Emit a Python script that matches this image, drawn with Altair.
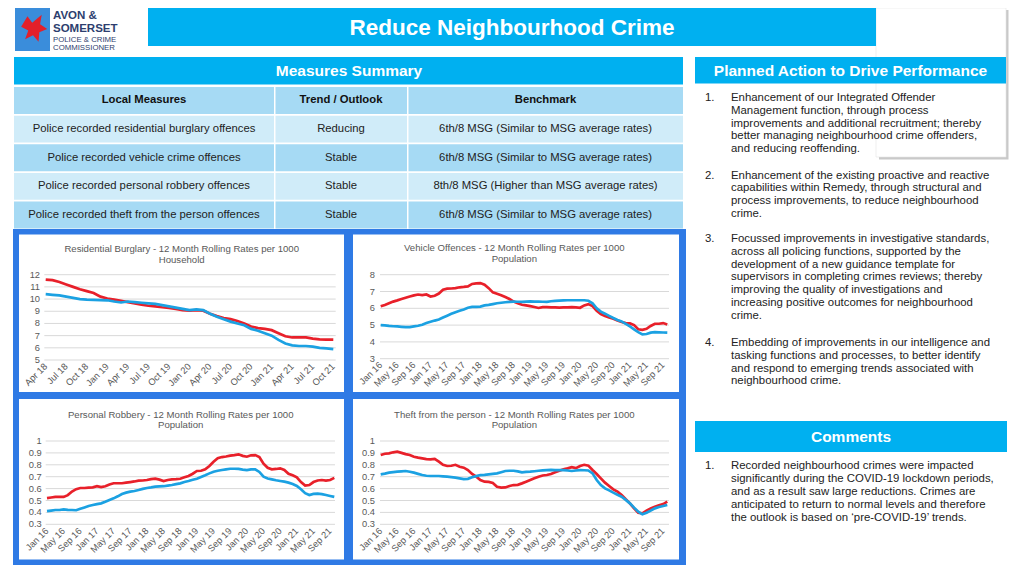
import altair as alt
import pandas as pd

# ---------------- data ----------------
burglary_xlabels = ["Apr 18", "Jul 18", "Oct 18", "Jan 19", "Apr 19", "Jul 19", "Oct 19", "Jan 20",
                    "Apr 20", "Jul 20", "Oct 20", "Jan 21", "Apr 21", "Jul 21", "Oct 21"]
burglary_force = [11.6, 11.55, 11.4, 11.2, 11.0, 10.8, 10.65, 10.5, 10.2, 10.05,
                  9.95, 9.85, 9.75, 9.65, 9.55, 9.45, 9.4, 9.33, 9.28, 9.2,
                  9.1, 9.05, 9.1, 9.05, 8.8, 8.6, 8.45, 8.35, 8.2, 8.0,
                  7.75, 7.62, 7.55, 7.45, 7.2, 6.95, 6.85, 6.85, 6.85, 6.75,
                  6.7, 6.68, 6.67]
burglary_msg = [10.4, 10.35, 10.3, 10.2, 10.1, 10.0, 9.95, 9.93, 9.92, 9.9,
                9.8, 9.72, 9.8, 9.75, 9.7, 9.65, 9.6, 9.5, 9.4, 9.3,
                9.2, 9.1, 9.15, 9.1, 8.8, 8.55, 8.35, 8.15, 8.0, 7.85,
                7.55, 7.4, 7.2, 7.0, 6.65, 6.35, 6.2, 6.15, 6.15, 6.1,
                6.0, 5.95, 5.9]
burglary_yticks = [5, 6, 7, 8, 9, 10, 11, 12]

monthly_xlabels = ["Jan 16", "May 16", "Sep 16", "Jan 17", "May 17", "Sep 17", "Jan 18", "May 18",
                   "Sep 18", "Jan 19", "May 19", "Sep 19", "Jan 20", "May 20", "Sep 20", "Jan 21",
                   "May 21", "Sep 21"]

vehicle_force = [6.12, 6.2, 6.3, 6.4, 6.47, 6.55, 6.63, 6.7, 6.77, 6.82,
                 6.78, 6.82, 6.7, 6.75, 6.88, 7.1, 7.17, 7.18, 7.2, 7.25,
                 7.27, 7.3, 7.45, 7.48, 7.5, 7.4, 7.2, 6.95, 6.87, 6.78,
                 6.67, 6.55, 6.4, 6.3, 6.21, 6.17, 6.13, 6.08, 6.02, 6.07,
                 6.07, 6.06, 6.05, 6.04, 6.05, 6.06, 6.07, 6.05, 6.03, 6.17,
                 6.25, 6.13, 5.85, 5.66, 5.54, 5.46, 5.38, 5.28, 5.18, 5.12,
                 5.1, 5.0, 4.75, 4.72, 4.78, 4.95, 5.08, 5.08, 5.12, 5.04]
vehicle_msg = [5.0, 4.98, 4.95, 4.93, 4.92, 4.9, 4.88, 4.88, 4.92, 4.96,
               5.02, 5.12, 5.2, 5.27, 5.33, 5.45, 5.56, 5.67, 5.77, 5.85,
               5.93, 6.03, 6.08, 6.08, 6.1, 6.17, 6.2, 6.25, 6.3, 6.33,
               6.36, 6.38, 6.4, 6.39, 6.38, 6.4, 6.41, 6.4, 6.4, 6.39,
               6.38, 6.42, 6.44, 6.46, 6.47, 6.48, 6.48, 6.48, 6.48, 6.48,
               6.45, 6.3, 6.0, 5.8, 5.68, 5.55, 5.42, 5.3, 5.22, 5.07,
               4.92, 4.75, 4.58, 4.45, 4.47, 4.55, 4.58, 4.57, 4.56, 4.55]
vehicle_yticks = [3, 4, 5, 6, 7, 8]

robbery_force = [0.52, 0.525, 0.53, 0.53, 0.53, 0.545, 0.575, 0.595, 0.605, 0.605,
                 0.608, 0.61, 0.62, 0.612, 0.62, 0.635, 0.645, 0.645, 0.645, 0.65,
                 0.655, 0.66, 0.667, 0.668, 0.672, 0.68, 0.683, 0.675, 0.664, 0.672,
                 0.678, 0.68, 0.683, 0.695, 0.706, 0.725, 0.748, 0.75, 0.762, 0.79,
                 0.826, 0.855, 0.865, 0.87, 0.877, 0.882, 0.888, 0.875, 0.868, 0.88,
                 0.882, 0.865, 0.81, 0.775, 0.762, 0.765, 0.77, 0.756, 0.725, 0.712,
                 0.695, 0.655, 0.625, 0.63, 0.655, 0.668, 0.672, 0.667, 0.672, 0.69]
robbery_msg = [0.41, 0.415, 0.42, 0.42, 0.425, 0.422, 0.42, 0.418, 0.43, 0.442,
               0.454, 0.462, 0.47, 0.476, 0.49, 0.505, 0.518, 0.535, 0.555, 0.566,
               0.574, 0.58, 0.588, 0.598, 0.605, 0.61, 0.616, 0.618, 0.62, 0.625,
               0.63, 0.637, 0.644, 0.655, 0.664, 0.674, 0.683, 0.698, 0.712, 0.728,
               0.742, 0.75, 0.756, 0.762, 0.767, 0.767, 0.765, 0.76, 0.756, 0.762,
               0.762, 0.74, 0.7, 0.685, 0.678, 0.67, 0.664, 0.658, 0.65, 0.638,
               0.622, 0.594, 0.562, 0.546, 0.555, 0.557, 0.553, 0.546, 0.538, 0.53]

theft_force = [0.882, 0.893, 0.896, 0.905, 0.91, 0.9, 0.89, 0.882, 0.868, 0.86,
               0.854, 0.848, 0.846, 0.85, 0.826, 0.8, 0.79, 0.792, 0.8, 0.784,
               0.776, 0.756, 0.723, 0.7, 0.672, 0.658, 0.656, 0.648, 0.616, 0.608,
               0.61, 0.622, 0.63, 0.632, 0.644, 0.658, 0.672, 0.686, 0.7, 0.71,
               0.714, 0.722, 0.737, 0.75, 0.762, 0.77, 0.78, 0.772, 0.79, 0.8,
               0.793, 0.756, 0.723, 0.686, 0.65, 0.622, 0.594, 0.574, 0.546, 0.51,
               0.476, 0.434, 0.397, 0.392, 0.414, 0.434, 0.448, 0.46, 0.47, 0.49]
theft_msg = [0.72, 0.726, 0.734, 0.738, 0.742, 0.745, 0.748, 0.742, 0.734, 0.724,
             0.714, 0.708, 0.706, 0.706, 0.706, 0.703, 0.7, 0.696, 0.692, 0.686,
             0.68, 0.682, 0.695, 0.705, 0.714, 0.716, 0.72, 0.724, 0.728, 0.738,
             0.748, 0.75, 0.75, 0.745, 0.737, 0.74, 0.742, 0.746, 0.75, 0.753,
             0.756, 0.757, 0.756, 0.756, 0.756, 0.752, 0.748, 0.752, 0.756, 0.754,
             0.752, 0.728, 0.672, 0.63, 0.602, 0.585, 0.566, 0.548, 0.532, 0.505,
             0.476, 0.44, 0.406, 0.384, 0.397, 0.415, 0.434, 0.445, 0.454, 0.462]
rate_yticks = [0.3, 0.4, 0.5, 0.6, 0.7, 0.8, 0.9, 1.0]
rate_ylabels = ["0.3", "0.4", "0.5", "0.6", "0.7", "0.8", "0.9", "1"]

table_measures = ["Local Measures",
                  "Police recorded residential burglary offences",
                  "Police recorded vehicle crime offences",
                  "Police recorded personal robbery offences",
                  "Police recorded theft from the person offences"]
table_trend = ["Trend / Outlook", "Reducing", "Stable", "Stable", "Stable"]
table_bench = ["Benchmark",
               "6th/8 MSG (Similar to MSG average rates)",
               "6th/8 MSG (Similar to MSG average rates)",
               "8th/8 MSG (Higher than MSG average rates)",
               "6th/8 MSG (Similar to MSG average rates)"]

actions = [
    ["Enhancement of our Integrated Offender", "Management function, through process",
     "improvements and additional recruitment; thereby", "better managing neighbourhood crime offenders,",
     "and reducing reoffending."],
    ["Enhancement of the existing proactive and reactive", "capabilities within Remedy, through structural and",
     "process improvements, to reduce neighbourhood", "crime."],
    ["Focussed improvements in investigative standards,", "across all policing functions, supported by the",
     "development of a new guidance template for", "supervisors in completing crimes reviews; thereby",
     "improving the quality of investigations and", "increasing positive outcomes for neighbourhood", "crime."],
    ["Embedding of improvements in our intelligence and", "tasking functions and processes, to better identify",
     "and respond to emerging trends associated with", "neighbourhood crime."],
]
comments = [["Recorded neighbourhood crimes were impacted", "significantly during the COVID-19 lockdown periods,",
             "and as a result saw large reductions. Crimes are", "anticipated to return to normal levels and therefore",
             "the outlook is based on \u2018pre-COVID-19\u2019 trends."]]

# ---------------- style ----------------
OFF = 8
HEAD = "#00B0F0"
FRAME = "#2F7AE5"
RED = "#E8202A"
BLUE = "#1BA1E2"
GRID = "#D9D9D9"
AXTXT = "#595959"
INK = "#222222"
FONT = "Liberation Sans"


def px(v):
    return v - OFF


one = pd.DataFrame({"k": [0]})


def rect(x0, y0, x1, y1, color, **kw):
    return alt.Chart(one).mark_rect(color=color, **kw).encode(
        x=alt.value(px(x0)), x2=alt.value(px(x1)), y=alt.value(px(y0)), y2=alt.value(px(y1)))


def text(x, y, t, size, color=INK, weight="normal", align="left", baseline="middle", lh=None, font=FONT):
    kw = dict(fontSize=size, color=color, fontWeight=weight, align=align, baseline=baseline, font=font)
    if lh:
        kw["lineHeight"] = lh
    return alt.Chart(one).mark_text(**kw).encode(x=alt.value(px(x)), y=alt.value(px(y)), text=alt.value(t))


def panel(force, msg, xlabels, step, yvals, ylabs, ydom, x0, x1, ybot, ytop, gx0, gx1, ylx, xly,
          title, tx, ty, tlh):
    n = len(force)
    xs = alt.Scale(domain=[0, n - 1], range=[px(x0), px(x1)], nice=False, zero=False)
    ys = alt.Scale(domain=ydom, range=[px(ybot), px(ytop)], nice=False, zero=False)
    X = alt.X("i:Q", scale=xs, axis=None)
    Y = alt.Y("v:Q", scale=ys, axis=None)
    ticks = pd.DataFrame({"v": yvals, "lab": ylabs})
    xl = pd.DataFrame({"i": [k * step for k in range(len(xlabels))], "lab": xlabels})
    grid = alt.Chart(ticks).mark_rule(color=GRID, strokeWidth=1).encode(
        y=Y, x=alt.value(px(gx0)), x2=alt.value(px(gx1)))
    ylab = alt.Chart(ticks).mark_text(align="right", baseline="middle", fontSize=9.3, color=AXTXT,
                                      font=FONT).encode(y=Y, x=alt.value(px(ylx)), text="lab:N")
    xlab = alt.Chart(xl).mark_text(align="right", baseline="middle", angle=315, fontSize=9.3,
                                   color=AXTXT, font=FONT).encode(x=X, y=alt.value(px(xly)), text="lab:N")
    lf = alt.Chart(pd.DataFrame({"i": list(range(n)), "v": force})).mark_line(
        color=RED, strokeWidth=2.7).encode(x=X, y=Y)
    lm = alt.Chart(pd.DataFrame({"i": list(range(n)), "v": msg})).mark_line(
        color=BLUE, strokeWidth=2.7).encode(x=X, y=Y)
    ttl = text(tx, ty, title, 9.6, color=AXTXT, align="center", baseline="alphabetic", lh=tlh)
    return alt.layer(grid, ylab, xlab, lf, lm, ttl)


layers = []

# logo
layers.append(rect(15, 8, 50, 51, "#3A8DDB"))
layers.append(alt.Chart(one).mark_point(
    shape="M -0.75 -0.15 L -0.35 -0.8 L -0.05 -0.4 L 0.55 -0.9 L 0.45 -0.3 L 0.9 0.0 L 0.4 0.2 "
          "L 0.35 0.8 L 0.0 0.4 L -0.5 0.65 L -0.3 0.1 Z",
    filled=True, color="#E3202A", opacity=1, size=1000).encode(x=alt.value(px(33)), y=alt.value(px(29))))
layers.append(text(53, 18.5, "AVON &", 11.5, color="#2D3E6E", weight="bold", baseline="alphabetic"))
layers.append(text(53, 31.5, "SOMERSET", 11.5, color="#2D3E6E", weight="bold", baseline="alphabetic"))
layers.append(text(53, 41.5, "POLICE & CRIME", 7.8, color="#2D3E6E", baseline="alphabetic"))
layers.append(text(53, 50, "COMMISSIONER", 7.8, color="#2D3E6E", baseline="alphabetic"))

# title banner + shadow box
layers.append(rect(879, 10, 1008.5, 159.5, "#C9C9C9"))
layers.append(rect(876, 8, 1006, 157, "white", stroke="#E4E4E4", strokeWidth=0.6))
layers.append(rect(148, 8, 876, 46, HEAD))
layers.append(text(512, 27.5, "Reduce Neighbourhood Crime", 22.5, color="white", weight="bold", align="center"))

# section headers
layers.append(rect(14, 57, 683, 84.5, HEAD))
layers.append(text(349, 71, "Measures Summary", 15.5, color="white", weight="bold", align="center"))
layers.append(rect(695, 57, 1006, 83.5, HEAD))
layers.append(text(850.5, 70.5, "Planned Action to Drive Performance", 15.5, color="white", weight="bold",
                   align="center"))
layers.append(rect(695, 421, 1007, 452, HEAD))
layers.append(text(851, 437, "Comments", 15.5, color="white", weight="bold", align="center"))

# table
tdf = pd.DataFrame({"row": list(range(5)), "c1": table_measures, "c2": table_trend, "c3": table_bench})
tys = alt.Scale(type="band", domain=list(range(5)), range=[px(87), px(228.5)], paddingInner=0.06,
                paddingOuter=0)
TY = alt.Y("row:O", scale=tys, axis=None)
tcol = alt.Color("row:O", scale=alt.Scale(domain=list(range(5)),
                                          range=["#A6DAF4", "#D0ECF9", "#A6DAF4", "#D0ECF9", "#A6DAF4"]),
                 legend=None)
tlayers = []
cols = [(14, 274, "c1", 144), (275.5, 407, "c2", 341), (408.5, 683, "c3", 545.5)]
for (cx0, cx1, field, cc) in cols:
    tlayers.append(alt.Chart(tdf).mark_rect().encode(
        y=TY, x=alt.value(px(cx0)), x2=alt.value(px(cx1)), color=tcol))
for (cx0, cx1, field, cc) in cols:
    tlayers.append(alt.Chart(tdf).transform_filter("datum.row == 0").mark_text(
        fontSize=11.3, fontWeight="bold", color="#111111", font=FONT, align="center", baseline="middle"
    ).encode(y=TY, x=alt.value(px(cc)), text=f"{field}:N"))
    tlayers.append(alt.Chart(tdf).transform_filter("datum.row > 0").mark_text(
        fontSize=11.3, color=INK, font=FONT, align="center", baseline="middle"
    ).encode(y=TY, x=alt.value(px(cc)), text=f"{field}:N"))
layers.append(alt.layer(*tlayers))

# chart frame and panels
layers.append(rect(13, 229, 686, 565, FRAME))
layers.append(rect(19, 234.5, 344, 392, "white"))
layers.append(rect(353, 234.5, 679, 392, "white"))
layers.append(rect(19, 399, 344, 559.5, "white"))
layers.append(rect(353, 399, 679, 559.5, "white"))

layers.append(panel(burglary_force, burglary_msg, burglary_xlabels, 3, burglary_yticks,
                    [str(v) for v in burglary_yticks], [5, 12], 45.7, 333.3, 360, 274.7, 44.3, 335.7,
                    40, 365, ["Residential Burglary - 12 Month Rolling Rates per 1000", "Household"],
                    181.7, 251.5, 11))
layers.append(panel(vehicle_force, vehicle_msg, monthly_xlabels, 4, vehicle_yticks,
                    [str(v) for v in vehicle_yticks], [3, 8], 380.7, 667.3, 358.7, 274.7, 380, 669,
                    375, 363.5, ["Vehicle Offences - 12 Month Rolling Rates per 1000", "Population"],
                    514.3, 251.2, 11))
layers.append(panel(robbery_force, robbery_msg, monthly_xlabels, 4, rate_yticks, rate_ylabels,
                    [0.3, 1.0], 47, 334.3, 524.3, 441, 45.7, 335, 41.7, 529.5,
                    ["Personal Robbery - 12 Month Rolling Rates per 1000", "Population"],
                    180.7, 417.5, 10.3))
layers.append(panel(theft_force, theft_msg, monthly_xlabels, 4, rate_yticks, rate_ylabels,
                    [0.3, 1.0], 380.7, 667.3, 524.3, 441, 380, 669, 375, 529.5,
                    ["Theft from the person - 12 Month Rolling Rates per 1000", "Population"],
                    514.3, 417.5, 10.3))

# right-hand text
LH = 12.8
starts = [97, 174.5, 238, 342]
for k, (lines, yc) in enumerate(zip(actions, starts)):
    yb = yc + 4
    layers.append(text(705, yb, f"{k + 1}.", 11.4, baseline="alphabetic"))
    layers.append(text(731, yb, lines, 11.4, baseline="alphabetic", lh=LH))
for k, lines in enumerate(comments):
    yb = 465 + 4
    layers.append(text(705, yb, f"{k + 1}.", 11.4, baseline="alphabetic"))
    layers.append(text(731, yb, lines, 11.4, baseline="alphabetic", lh=13))

chart = alt.layer(*layers).resolve_scale(
    x="independent", y="independent", color="independent"
).properties(
    width=1008, height=560, padding=0, autosize=alt.AutoSizeParams(type="none")
).configure(background="white", font=FONT).configure_view(stroke=None)

chart.save("out.html", embed_options={"renderer": "svg", "actions": False})
